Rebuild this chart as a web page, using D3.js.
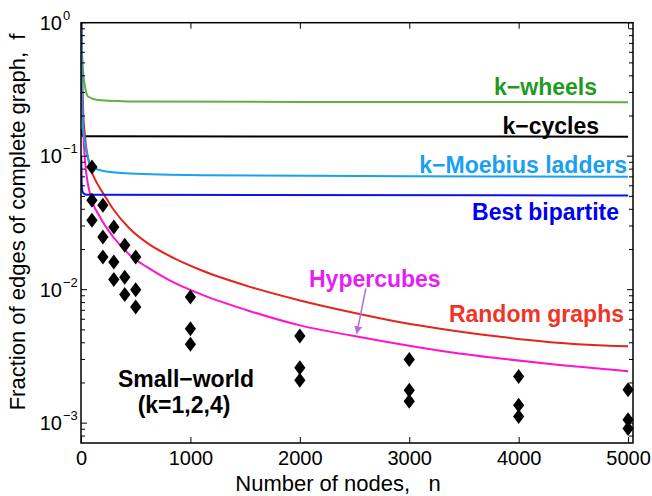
<!DOCTYPE html>
<html>
<head>
<meta charset="utf-8">
<script src="https://cdn.jsdelivr.net/npm/d3@7"></script>
<style>
  body { margin: 0; background: #fff; }
  text { font-family: "Liberation Sans", Arial, sans-serif; }
</style>
</head>
<body>
<script>
// curves: [nodes, fraction]
var kWheels = [[3, 1], [10, 0.6], [20, 0.42], [34, 0.343], [64, 0.28], [155, 0.264], [521, 0.257], [2000, 0.255], [5000, 0.254]];
var kCycles = [[3, 0.16], [12, 0.142], [40, 0.141], [5000, 0.14]];
var kMoebius = [[4, 1], [7, 0.5], [12, 0.25], [20, 0.16], [37, 0.125], [82, 0.088], [174, 0.0785], [448, 0.0741], [1088, 0.0721], [3000, 0.0708], [5000, 0.0701]];
var bestBipartite = [[2, 0.1], [5, 0.07], [8, 0.058], [20, 0.053], [50, 0.0515], [5000, 0.0508]];
var randomGraphs = [[5, 1], [10, 0.5], [20, 0.22], [37, 0.14], [82, 0.085], [150, 0.062], [204, 0.0525], [295, 0.040], [448, 0.0285], [601, 0.0225], [844, 0.0173], [1088, 0.0141], [1545, 0.0105], [2002, 0.0083], [2460, 0.0068], [2917, 0.0057], [3374, 0.00497], [3831, 0.00443], [4289, 0.00404], [5000, 0.00376]];
var hypercubes = [[3, 1], [8, 0.4], [20, 0.16], [37, 0.093], [82, 0.0525], [174, 0.035], [295, 0.0248], [448, 0.0181], [601, 0.0148], [814, 0.0117], [1088, 0.0093], [1545, 0.0069], [2002, 0.0054], [2460, 0.00455], [2917, 0.0039], [3374, 0.0034], [3831, 0.00305], [4289, 0.00277], [5000, 0.00245]];

// small-world points, three k values per n
var swNodes = [100, 200, 300, 400, 500, 1000, 2000, 3000, 4000, 5000];
var swK4 = [0.083, 0.0429, 0.0295, 0.0215, 0.0176, 0.0088, 0.0045, 0.0030, 0.00224, 0.00178];
var swK2 = [0.0468, 0.0248, 0.0161, 0.0124, 0.0100, 0.0051, 0.0026, 0.00176, 0.00136, 0.00106];
var swK1 = [0.0331, 0.0176, 0.0119, 0.0092, 0.0074, 0.0039, 0.0021, 0.00146, 0.00112, 0.00091];

var xTicks = [0, 1000, 2000, 3000, 4000, 5000];
var yDecades = [1, 0.1, 0.01, 0.001];
var yExponents = ["0", "\u22121", "\u22122", "\u22123"];

// arrow from "Hypercubes" label down to the curve: [n, f]
var arrowFrom = [2603, 0.0102];
var arrowTo = [2521, 0.0047];

var width = 652, height = 496;
var margin = { top: 22.7, right: 19, bottom: 53, left: 81 };

var svg = d3.select("body").append("svg")
  .attr("width", width)
  .attr("height", height);

var x = d3.scaleLinear().domain([0, 5045]).range([margin.left, width - margin.right]);
var y = d3.scaleLog().domain([7.1e-4, 1]).range([height - margin.bottom, margin.top]);

svg.append("clipPath").attr("id", "plotclip")
  .append("rect")
  .attr("x", x(0)).attr("y", y(1))
  .attr("width", x(5045) - x(0)).attr("height", y(7.1e-4) - y(1));

var line = d3.line()
  .x(function (d) { return x(d[0]); })
  .y(function (d) { return y(d[1]); })
  .curve(d3.curveMonotoneX);

var plot = svg.append("g").attr("clip-path", "url(#plotclip)");

var series = [
  { data: kWheels, color: "#62b03e" },
  { data: kCycles, color: "#000000" },
  { data: randomGraphs, color: "#e3261b" },
  { data: hypercubes, color: "#ff14c8" },
  { data: kMoebius, color: "#19a0f0" },
  { data: bestBipartite, color: "#0a14f0" }
];

plot.selectAll("path.curve")
  .data(series)
  .enter()
  .append("path")
  .attr("class", "curve")
  .attr("d", function (d) { return line(d.data); })
  .attr("fill", "none")
  .attr("stroke", function (d) { return d.color; })
  .attr("stroke-width", 2);

// diamonds
var swPoints = [];
swNodes.forEach(function (n, i) {
  swPoints.push([n, swK4[i]]);
  swPoints.push([n, swK2[i]]);
  swPoints.push([n, swK1[i]]);
});

svg.selectAll("path.diamond")
  .data(swPoints)
  .enter()
  .append("path")
  .attr("class", "diamond")
  .attr("d", "M0,-7.5L5.6,0L0,7.5L-5.6,0Z")
  .attr("transform", function (d) { return "translate(" + x(d[0]) + "," + y(d[1]) + ")"; })
  .attr("fill", "#000");

// axes box
var x0 = x(0), x1 = x(5045), yTop = y(1), yBot = y(7.1e-4);

var xAxis = d3.axisBottom(x).tickValues(xTicks).tickSize(-6).tickPadding(8)
  .tickFormat(d3.format("d"));
var gx = svg.append("g").attr("transform", "translate(0," + yBot + ")").call(xAxis);
gx.select(".domain").remove();
gx.selectAll("text").attr("font-size", 20).attr("fill", "#000")
  .attr("font-family", "Liberation Sans, Arial, sans-serif");

var xAxisTop = d3.axisTop(x).tickValues(xTicks).tickSize(-6).tickFormat("");
var gxt = svg.append("g").attr("transform", "translate(0," + yTop + ")").call(xAxisTop);
gxt.select(".domain").remove();

// y ticks, minor included
var minor = [];
[0.001, 0.01, 0.1].forEach(function (dec) {
  for (var k = 2; k <= 9; k++) minor.push(dec * k);
});
minor.push(0.0008, 0.0009);

[{ pos: x0, dir: 1 }, { pos: x1, dir: -1 }].forEach(function (s) {
  var g = svg.append("g");
  g.selectAll("line.major").data(yDecades).enter().append("line")
    .attr("x1", s.pos).attr("x2", s.pos + s.dir * 6)
    .attr("y1", function (d) { return y(d); }).attr("y2", function (d) { return y(d); })
    .attr("stroke", "#000").attr("stroke-width", 1);
  g.selectAll("line.minor").data(minor).enter().append("line")
    .attr("x1", s.pos).attr("x2", s.pos + s.dir * 4)
    .attr("y1", function (d) { return y(d); }).attr("y2", function (d) { return y(d); })
    .attr("stroke", "#000").attr("stroke-width", 1);
});

var ylab = svg.append("g");
ylab.selectAll("text.base").data(yDecades).enter().append("text")
  .attr("x", 62)
  .attr("y", function (d) { return y(d) + 7; })
  .attr("text-anchor", "end")
  .attr("font-size", 20)
  .text("10");
ylab.selectAll("text.exp").data(yDecades).enter().append("text")
  .attr("x", 63)
  .attr("y", function (d) { return y(d) - 3; })
  .attr("font-size", 13)
  .text(function (d, i) { return yExponents[i]; });

svg.append("rect")
  .attr("x", x0).attr("y", yTop)
  .attr("width", x1 - x0).attr("height", yBot - yTop)
  .attr("fill", "none")
  .attr("stroke", "#000")
  .attr("stroke-width", 1.5);

// axis titles
svg.append("text")
  .attr("x", 338).attr("y", 491)
  .attr("text-anchor", "middle")
  .attr("font-size", 22)
  .style("white-space", "pre")
  .text("Number of nodes,   n");

svg.append("text")
  .attr("transform", "translate(25,222) rotate(-90)")
  .attr("text-anchor", "middle")
  .attr("font-size", 22)
  .style("white-space", "pre")
  .text("Fraction of edges of complete graph,  f");

// curve labels
var labels = [
  { text: "k\u2212wheels", x: 597, y: 95, anchor: "end", color: "#1e9b1e" },
  { text: "k\u2212cycles", x: 599, y: 134, anchor: "end", color: "#000" },
  { text: "k\u2212Moebius ladders", x: 627, y: 173, anchor: "end", color: "#19a0f0" },
  { text: "Best bipartite", x: 619, y: 220, anchor: "end", color: "#0000ee" },
  { text: "Hypercubes", x: 309, y: 287, anchor: "start", color: "#e51ef2" },
  { text: "Random graphs", x: 624, y: 322, anchor: "end", color: "#ef3526" },
  { text: "Small\u2212world", x: 186, y: 387, anchor: "middle", color: "#000" },
  { text: "(k=1,2,4)", x: 184, y: 413, anchor: "middle", color: "#000" }
];

svg.selectAll("text.lbl")
  .data(labels)
  .enter()
  .append("text")
  .attr("class", "lbl")
  .attr("x", function (d) { return d.x; })
  .attr("y", function (d) { return d.y; })
  .attr("text-anchor", function (d) { return d.anchor; })
  .attr("font-size", 23)
  .attr("font-weight", "bold")
  .attr("fill", function (d) { return d.color; })
  .text(function (d) { return d.text; });

// arrow
svg.append("defs").append("marker")
  .attr("id", "head")
  .attr("viewBox", "0 0 10 10")
  .attr("refX", 9).attr("refY", 5)
  .attr("markerWidth", 8).attr("markerHeight", 8)
  .attr("markerUnits", "userSpaceOnUse")
  .attr("orient", "auto")
  .append("path")
  .attr("d", "M0,0L10,5L0,10Z")
  .attr("fill", "#b070e0");

svg.append("line")
  .attr("x1", x(arrowFrom[0])).attr("y1", y(arrowFrom[1]))
  .attr("x2", x(arrowTo[0])).attr("y2", y(arrowTo[1]))
  .attr("stroke", "#b070e0")
  .attr("stroke-width", 1.5)
  .attr("marker-end", "url(#head)");
</script>
</body>
</html>
